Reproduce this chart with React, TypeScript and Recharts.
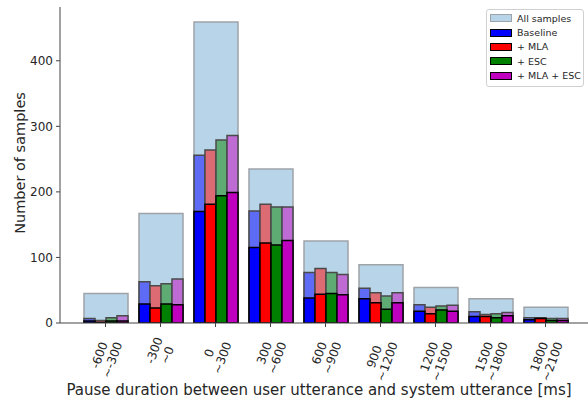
import React from 'react';
import { ComposedChart, Bar, XAxis, YAxis, Legend, Label } from 'recharts';

// pause-duration bins [ms]
const categories = [
  '-600~-300', '-300~0', '0~300', '300~600', '600~900',
  '900~1200', '1200~1500', '1500~1800', '1800~2100',
];
const allSamples = [45, 167, 459, 235, 125, 89, 54, 37, 24];

// light (total) and dark (subset) counts per system
const baselineTotal = [7, 63, 256, 171, 77, 53, 28, 17, 8];
const baselinePart = [3, 29, 170, 115, 38, 37, 18, 10, 5];
const mlaTotal = [4, 57, 264, 181, 83, 46, 24, 13, 8];
const mlaPart = [1, 23, 181, 122, 44, 31, 14, 10, 7];
const escTotal = [8, 60, 279, 177, 77, 41, 26, 14, 7];
const escPart = [3, 29, 194, 119, 45, 21, 20, 8, 4];
const bothTotal = [11, 67, 286, 177, 74, 46, 27, 16, 7];
const bothPart = [3, 28, 199, 126, 43, 31, 18, 11, 4];

const yTicks = [0, 100, 200, 300, 400];

const data = categories.map((cat, i) => ({
  cat,
  all: allSamples[i],
  baseT: baselineTotal[i],
  baseP: baselinePart[i],
  mlaT: mlaTotal[i],
  mlaP: mlaPart[i],
  escT: escTotal[i],
  escP: escPart[i],
  bothT: bothTotal[i],
  bothP: bothPart[i],
}));

const FONT = '"DejaVu Sans", sans-serif';
const INK = '#262626';
const SPINE = '#444';

const series = [
  { name: 'Baseline', t: 'baseT', p: 'baseP', light: '#5e6bf4', dark: '#0000ff' },
  { name: '+ MLA', t: 'mlaT', p: 'mlaP', light: '#dd6b74', dark: '#ff0000' },
  { name: '+ ESC', t: 'escT', p: 'escP', light: '#5eab74', dark: '#008000' },
  { name: '+ MLA + ESC', t: 'bothT', p: 'bothP', light: '#be6bd4', dark: '#bf00bf' },
];

const charW = (ch: string) => (ch === '~' ? 0.838 : ch === '-' ? 0.361 : 0.636);
const textW = (s: string, f: number) => s.split('').reduce((w, ch) => w + charW(ch) * f, 0);

// two-line label, rotated 70deg, box centred under the tick
const XTick = (props: any) => {
  const { x, y, payload } = props;
  const label: string = payload.value;
  const k = label.indexOf('~');
  const lines = [label.slice(0, k), label.slice(k)];
  const f = 12;
  const lh = f * 1.15;
  const w = Math.max(...lines.map((l) => textW(l, f)));
  const h = lh + f * 0.75;
  const rad = (70 * Math.PI) / 180;
  const boxH = w * Math.sin(rad) + h * Math.cos(rad);
  const cy = y + 6 + boxH / 2;
  return (
    <g transform={`translate(${x},${cy}) rotate(-70)`}>
      <text textAnchor="middle" fontSize={f} fill={INK} fontFamily={FONT}>
        <tspan x={0} y={-lh / 2 + 0.36 * f}>{lines[0]}</tspan>
        <tspan x={0} y={lh / 2 + 0.36 * f}>{lines[1]}</tspan>
      </text>
    </g>
  );
};

const LegendBox = () => {
  const items = [
    { name: 'All samples', fill: '#b8d4e8', stroke: '#9ea3a8' },
    ...series.map((s) => ({ name: s.name, fill: s.dark, stroke: '#000' })),
  ];
  return (
    <div
      style={{
        boxSizing: 'border-box',
        width: 98,
        border: '1px solid #d0d0d0',
        borderRadius: 3,
        background: 'rgba(255,255,255,0.8)',
        padding: '1px 3px 3px 3px',
        fontFamily: FONT,
        fontSize: 9.5,
        color: INK,
        whiteSpace: 'nowrap',
      }}
    >
      {items.map((it) => (
        <div key={it.name} style={{ display: 'flex', alignItems: 'center', height: 14.4 }}>
          <span
            style={{
              display: 'inline-block',
              boxSizing: 'border-box',
              width: 22,
              height: 8,
              background: it.fill,
              border: `1.5px solid ${it.stroke}`,
              marginRight: 5,
              flex: 'none',
            }}
          />
          <span>{it.name}</span>
        </div>
      ))}
    </div>
  );
};

const axisPad = { left: 18, right: 18 };

export default function App() {
  return (
    <div
      style={{
        position: 'absolute',
        left: 0,
        top: 0,
        width: 588,
        height: 401,
        overflow: 'hidden',
        background: '#fff',
      }}
    >
      <ComposedChart
        width={600}
        height={401}
        data={data}
        margin={{ top: 7, right: 9, bottom: 0, left: 0 }}
        barGap={0}
      >
        <XAxis
          xAxisId="frame"
          orientation="top"
          dataKey="cat"
          height={0}
          tick={false}
          tickLine={false}
          axisLine={{ stroke: SPINE }}
          padding={axisPad}
        />
        <XAxis
          xAxisId="all"
          dataKey="cat"
          height={78}
          padding={axisPad}
          interval={0}
          tick={<XTick />}
          tickSize={4}
          tickMargin={3}
          tickLine={{ stroke: SPINE }}
          axisLine={{ stroke: SPINE }}
          label={
            <Label
              content={() => (
                <text x={319} y={395} textAnchor="middle" fontSize={15} fill={INK} fontFamily={FONT}>
                  Pause duration between user utterance and system utterance [ms]
                </text>
              )}
            />
          }
        />
        <XAxis xAxisId="light" dataKey="cat" hide padding={axisPad} />
        <XAxis xAxisId="dark" dataKey="cat" hide padding={axisPad} />
        <YAxis
          width={60}
          domain={[0, 482]}
          ticks={yTicks}
          allowDataOverflow
          tickSize={4}
          tickMargin={3}
          tick={{ fontSize: 12, fill: INK, fontFamily: FONT }}
          tickLine={{ stroke: SPINE }}
          axisLine={{ stroke: SPINE }}
          label={
            <Label
              content={() => (
                <text
                  transform="translate(20,163) rotate(-90)"
                  textAnchor="middle"
                  dominantBaseline="central"
                  fontSize={14.5}
                  fill={INK}
                  fontFamily={FONT}
                >
                  Number of samples
                </text>
              )}
            />
          }
        />
        <Legend
          content={<LegendBox />}
          layout="horizontal"
          verticalAlign="middle"
          align="center"
          width={98}
          wrapperStyle={{ top: 9, left: 486 }}
        />
        <Bar
          xAxisId="all"
          dataKey="all"
          barSize={44}
          fill="#b8d4e8"
          stroke="#9ea3a8"
          strokeWidth={1.5}
          isAnimationActive={false}
        />
        {series.map((s) => (
          <Bar
            key={s.t}
            xAxisId="light"
            dataKey={s.t}
            barSize={11}
            fill={s.light}
            stroke="#4a4a4a"
            strokeWidth={1.5}
            isAnimationActive={false}
          />
        ))}
        {series.map((s) => (
          <Bar
            key={s.p}
            xAxisId="dark"
            dataKey={s.p}
            barSize={11}
            fill={s.dark}
            stroke="#000"
            strokeWidth={1.5}
            isAnimationActive={false}
          />
        ))}
      </ComposedChart>
    </div>
  );
}
